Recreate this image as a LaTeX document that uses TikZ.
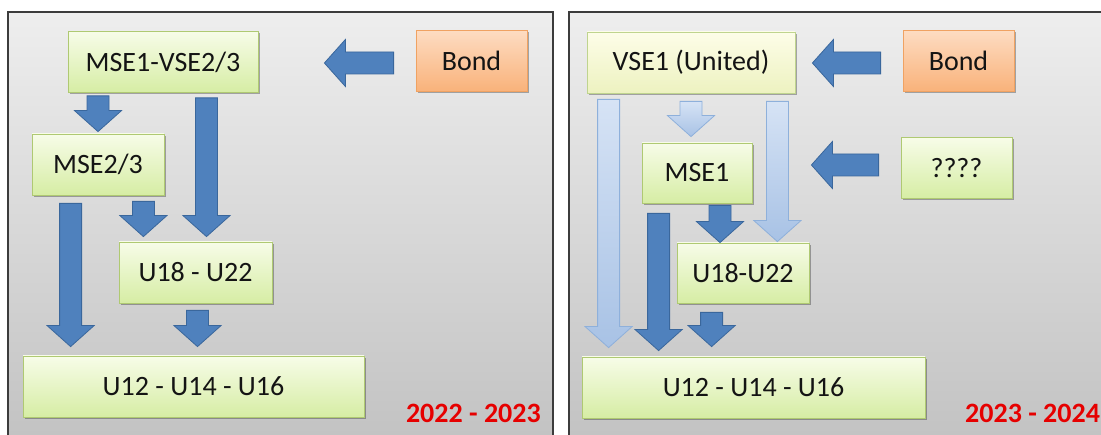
\documentclass[tikz,border=0pt]{standalone}
\usepackage{fontspec}
\setmainfont{Carlito}
\usetikzlibrary{calc,shadows}
\definecolor{framegray}{HTML}{3C3C3C}
\definecolor{panetop}{HTML}{EEEEEE}
\definecolor{panebot}{HTML}{C2C2C2}
\definecolor{greentop}{HTML}{F7FCE8}
\definecolor{greenbot}{HTML}{D6EDA4}
\definecolor{greenline}{HTML}{AFC972}
\definecolor{yellowtop}{HTML}{FDFDE8}
\definecolor{yellowbot}{HTML}{EDF2C0}
\definecolor{orangetop}{HTML}{FDDCC2}
\definecolor{orangebot}{HTML}{F9B27A}
\definecolor{orangeline}{HTML}{F0A262}
\definecolor{arrowblue}{HTML}{4F81BD}
\definecolor{arrowline}{HTML}{3A679C}
\definecolor{lighttop}{HTML}{D6E3F5}
\definecolor{lightbot}{HTML}{A8C2E5}
\definecolor{lightline}{HTML}{8EB0DB}
\definecolor{yearred}{HTML}{E60000}
\tikzset{
  panel/.style={draw=framegray, line width=1.2pt, top color=panetop, bottom color=panebot},
  box/.style={draw=greenline, line width=0.8pt, top color=greentop, bottom color=greenbot,
    inner sep=0pt, minimum height=61pt, text=black!92, font=\fontsize{28}{32}\selectfont,
    drop shadow={shadow xshift=1.5pt, shadow yshift=-2pt, opacity=0.3, fill=black}},
  yellowbox/.style={box, draw=greenline!80, top color=yellowtop, bottom color=yellowbot},
  bondbox/.style={box, draw=orangeline, top color=orangetop, bottom color=orangebot},
  year/.style={inner sep=0pt, text=yearred, font=\fontsize{28}{32}\selectfont\bfseries},
  blockarrow/.style={to path={
    ($(\tikztostart)!11pt!90:(\tikztotarget)$) --
    ($(\tikztotarget)!21pt!(\tikztostart)!11pt!90:(\tikztotarget)$) --
    ($(\tikztotarget)!21pt!(\tikztostart)!23.5pt!90:(\tikztotarget)$) --
    (\tikztotarget) --
    ($(\tikztotarget)!21pt!(\tikztostart)!23.5pt!-90:(\tikztotarget)$) --
    ($(\tikztotarget)!21pt!(\tikztostart)!11pt!-90:(\tikztotarget)$) --
    ($(\tikztostart)!11pt!-90:(\tikztotarget)$) -- cycle}},
  darkarrow/.style={blockarrow, draw=arrowline, line width=0.8pt, fill=arrowblue},
  lightarrow/.style={blockarrow, draw=lightline, line width=0.8pt, top color=lighttop, bottom color=lightbot}
}
\begin{document}
\begin{tikzpicture}[x=1pt,y=-1pt]
    \useasboundingbox (0,0) rectangle (1101,435);
    \fill[white] (0,0) rectangle (1101,435);

    \draw[panel] (8,12) rectangle (553,445);
    \draw[panel] (569,12) rectangle (1110,445);

    \node[box, minimum width=190pt] (msetop) at (163,62) {MSE1-VSE2/3};
    \node[bondbox, minimum width=111pt] (bondl) at (471.5,61) {Bond};
    \node[box, minimum width=132pt] (mse23) at (98,164.5) {MSE2/3};
    \node[box, minimum width=153pt] (u18l) at (195.5,272.5) {U18 - U22};
    \node[box, minimum width=341pt] (u12l) at (193.5,386.5) {U12 - U14 - U16};
    \node[year, anchor=base east] (yearl) at (541,423) {2022 - 2023};

    \draw[darkarrow] ($(bondl.west)+(-22,2)$) to ($(msetop.east |- bondl.west)+(66,2)$);
    \draw[darkarrow] ($(msetop.south -| mse23.north)+(0,3)$) to ($(mse23.north)+(0,-2)$);
    \draw[darkarrow] ($(msetop.south -| u18l.north)+(11,5)$) to ($(u18l.north)+(11,-5)$);
    \draw[darkarrow] ($(mse23.south east)+(-21,6)$) to ($(mse23.south east |- u18l.north)+(-21,-5)$);
    \draw[darkarrow] ($(mse23.south west)+(39,8)$) to ($(mse23.south west |- u12l.north)+(39,-9)$);
    \draw[darkarrow] ($(u18l.south)+(2,7)$) to ($(u18l.south |- u12l.north)+(2,-9)$);

    \node[yellowbox, minimum width=208pt] (vse1) at (691,62.5) {VSE1 (United)};
    \node[bondbox, minimum width=111pt] (bondr) at (958.5,61) {Bond};
    \node[box, minimum width=111pt] (unknown) at (956.5,168) {????};
    \node[box, minimum width=110pt, minimum height=60pt] (mse1) at (697,173) {MSE1};
    \node[box, minimum width=132pt, minimum height=60pt] (u18r) at (743,273) {U18-U22};
    \node[box, minimum width=343pt] (u12r) at (753.5,387.5) {U12 - U14 - U16};
    \node[year, anchor=base west] (yearr) at (965,423) {2023 - 2024};

    \draw[lightarrow] ($(vse1.south)+(0,8)$) to ($(vse1.south |- mse1.north)+(0,-6)$);
    \draw[lightarrow] ($(vse1.south west)+(22,6)$) to ($(vse1.south west |- u12r.north)+(22,-9)$);
    \draw[lightarrow] ($(vse1.south east)+(-18,8)$) to ($(vse1.south east |- u18r.north)+(-18,-1)$);
    \draw[darkarrow] ($(mse1.south)+(23,2)$) to ($(mse1.south |- u18r.north)+(23,0)$);
    \draw[darkarrow] ($(mse1.south west)+(17,10)$) to ($(mse1.south west |- u12r.north)+(17,-6)$);
    \draw[darkarrow] ($(u18r.south west)+(35,9)$) to ($(u18r.south west |- u12r.north)+(35,-10)$);
    \draw[darkarrow] ($(bondr.west)+(-22,2)$) to ($(vse1.east |- bondr.west)+(17,2)$);
    \draw[darkarrow] ($(unknown.west)+(-22,-3)$) to ($(mse1.east |- unknown.west)+(59,-3)$);
\end{tikzpicture}
\end{document}
